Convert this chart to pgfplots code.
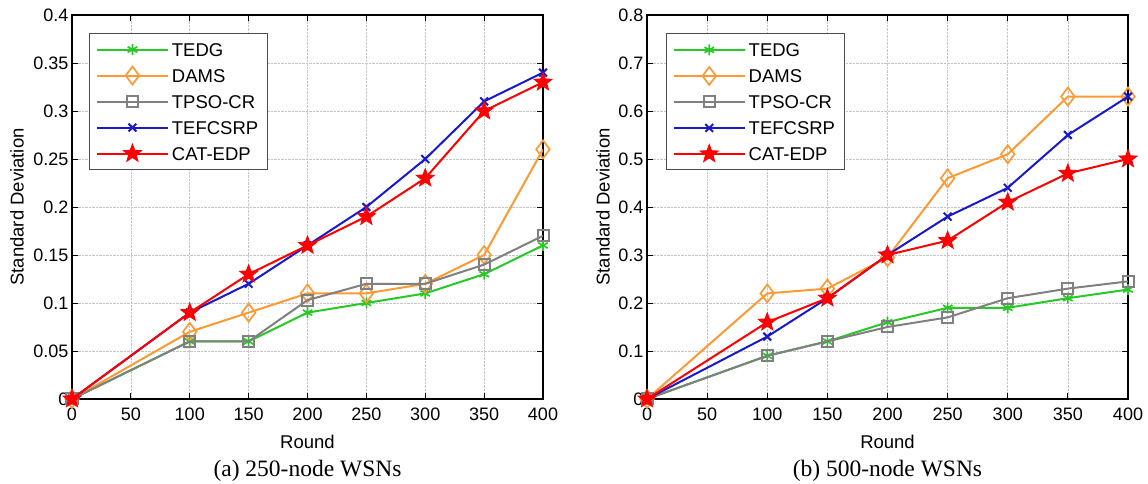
\documentclass[border=0pt]{standalone}
\usepackage{fontspec}
\setmainfont{Liberation Sans}
\newfontfamily\capfont{Liberation Serif}
\usepackage{pgfplots}
\usepackage{pgfplotstable}
\pgfplotsset{compat=1.18}

\pgfdeclareplotmark{pstar}{%
 \pgfpathmoveto{\pgfpointpolar{90}{\pgfplotmarksize}}%
 \pgfpathlineto{\pgfpointpolar{126}{0.42\pgfplotmarksize}}%
 \pgfpathlineto{\pgfpointpolar{162}{\pgfplotmarksize}}%
 \pgfpathlineto{\pgfpointpolar{198}{0.42\pgfplotmarksize}}%
 \pgfpathlineto{\pgfpointpolar{234}{\pgfplotmarksize}}%
 \pgfpathlineto{\pgfpointpolar{270}{0.42\pgfplotmarksize}}%
 \pgfpathlineto{\pgfpointpolar{306}{\pgfplotmarksize}}%
 \pgfpathlineto{\pgfpointpolar{342}{0.42\pgfplotmarksize}}%
 \pgfpathlineto{\pgfpointpolar{18}{\pgfplotmarksize}}%
 \pgfpathlineto{\pgfpointpolar{54}{0.42\pgfplotmarksize}}%
 \pgfpathclose
 \pgfusepathqfillstroke}

\definecolor{cgreen}{RGB}{40,200,40}
\definecolor{corange}{RGB}{255,153,51}
\definecolor{cgray}{RGB}{128,128,128}
\definecolor{cblue}{RGB}{25,25,204}
\definecolor{cred}{RGB}{255,0,0}

\pgfplotstableread{
x tedg dams tpso tefc cat
0 0 0 0 0 0
100 0.06 0.07 0.06 0.09 0.09
150 0.06 0.09 0.06 0.12 0.13
200 0.09 0.11 0.103 0.16 0.16
250 0.10 0.11 0.12 0.20 0.19
300 0.11 0.12 0.12 0.25 0.23
350 0.13 0.15 0.14 0.31 0.30
400 0.16 0.26 0.17 0.34 0.33
}\tabA

\pgfplotstableread{
x tedg dams tpso tefc cat
0 0 0 0 0 0
100 0.09 0.22 0.09 0.13 0.16
150 0.12 0.23 0.12 0.21 0.21
200 0.16 0.295 0.15 0.30 0.30
250 0.19 0.46 0.17 0.38 0.33
300 0.19 0.51 0.21 0.44 0.41
350 0.21 0.63 0.23 0.55 0.47
400 0.228 0.63 0.245 0.63 0.50
}\tabB

\pgfplotsset{
  common/.style={
    scale only axis,
    clip mode=individual,
    height=384pt,
    xmin=0, xmax=400, ymin=0,
    xtick={0,50,...,400},
    tick align=inside,
    major tick length=6pt,
    tick style={black, line width=0.9pt},
    axis line style={black, line width=1.5pt},
    grid=major,
    major grid style={densely dotted, gray!45, line width=0.7pt},
    /pgf/number format/assume math mode=true,
    tick label style={font=\fontsize{18}{20}\selectfont},
    xticklabel style={yshift=-5pt},
    label style={font=\fontsize{18.5}{21}\selectfont},
    xlabel={Round},
    ylabel={Standard Deviation},
    xlabel style={at={(axis description cs:0.5,0)}, anchor=center, yshift=-43pt},
    legend cell align=left,
    legend style={anchor=north west,
      draw=black!70, line width=1pt, inner xsep=6pt, inner ysep=3pt,
      font=\fontsize{18.5}{21}\selectfont,
      nodes={inner xsep=3pt, inner ysep=6.5pt, text height=13pt, text depth=0pt}},
    legend image code/.code={\draw[mark repeat=2,mark phase=2] plot coordinates {(0pt,0pt)(35.5pt,0pt)(71pt,0pt)};},
  },
  sTEDG/.style={color=cgreen, line width=2pt, mark=asterisk, mark size=5.5pt, mark options={line width=1.7pt}},
  sDAMS/.style={color=corange, line width=2pt, mark=diamond, mark size=9pt, mark options={line width=1.7pt, fill=none}},
  sTPSO/.style={color=cgray, line width=2pt, mark=square, mark size=5.5pt, mark options={line width=2pt}},
  sTEFC/.style={color=cblue, line width=2pt, mark=x, mark size=5.5pt, mark options={line width=2pt}},
  sCAT/.style={color=cred, line width=2pt, mark=pstar, mark size=9.5pt, mark options={line width=0.8pt, fill=cred}},
}

\begin{document}
\begin{tikzpicture}
\path[use as bounding box] (0pt,0pt) rectangle (1148pt,484pt);
\begin{axis}[common,
  at={(72pt,85pt)}, anchor=south west, width=471pt,
  ymax=0.4, ytick={0,0.05,...,0.4},
  yticklabels={0,0.05,0.1,0.15,0.2,0.25,0.3,0.35,0.4},
  legend style={at={(axis description cs:0.037,0.953)}},
  ylabel style={at={(axis description cs:0,0.5)}, anchor=center, yshift=55pt},
]
\addplot[sTEDG] table[x=x,y=tedg]{\tabA};
\addlegendentry{TEDG}
\addplot[sDAMS] table[x=x,y=dams]{\tabA};
\addlegendentry{DAMS}
\addplot[sTPSO] table[x=x,y=tpso]{\tabA};
\addlegendentry{TPSO-CR}
\addplot[sTEFC] table[x=x,y=tefc]{\tabA};
\addlegendentry{TEFCSRP}
\addplot[sCAT] table[x=x,y=cat]{\tabA};
\addlegendentry{CAT-EDP}
\node[font=\capfont\fontsize{23.5}{26}\selectfont] at (axis description cs:0.5,0) [yshift=-72pt] {(a) 250-node WSNs};
\end{axis}
\begin{axis}[common,
  at={(647pt,85pt)}, anchor=south west, width=481pt,
  ymax=0.8, ytick={0,0.1,...,0.8},
  yticklabels={0,0.1,0.2,0.3,0.4,0.5,0.6,0.7,0.8},
  legend style={at={(axis description cs:0.040,0.952)}},
  ylabel style={at={(axis description cs:0,0.5)}, anchor=center, yshift=44pt},
]
\addplot[sTEDG] table[x=x,y=tedg]{\tabB};
\addlegendentry{TEDG}
\addplot[sDAMS] table[x=x,y=dams]{\tabB};
\addlegendentry{DAMS}
\addplot[sTPSO] table[x=x,y=tpso]{\tabB};
\addlegendentry{TPSO-CR}
\addplot[sTEFC] table[x=x,y=tefc]{\tabB};
\addlegendentry{TEFCSRP}
\addplot[sCAT] table[x=x,y=cat]{\tabB};
\addlegendentry{CAT-EDP}
\node[font=\capfont\fontsize{23.5}{26}\selectfont] at (axis description cs:0.5,0) [yshift=-72pt] {(b) 500-node WSNs};
\end{axis}
\end{tikzpicture}
\end{document}
